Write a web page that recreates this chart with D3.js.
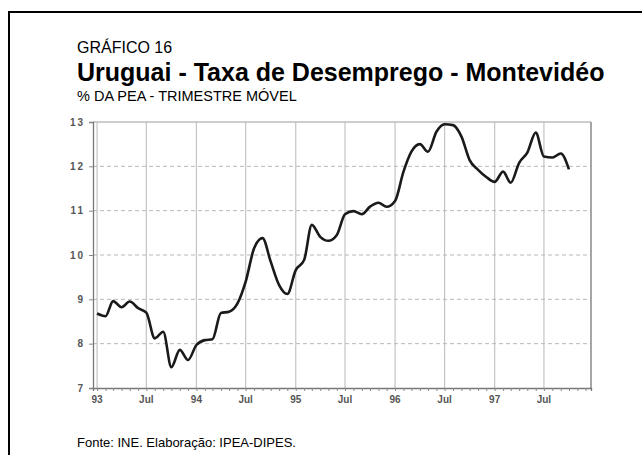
<!DOCTYPE html>
<html lang="pt">
  <head>
    <meta charset="UTF-8" />
    <title>Uruguai - Taxa de Desemprego - Montevidéo</title>
    <script src="https://d3js.org/d3.v7.min.js"></script>
    <style>
      body {
        margin: 0;
        background: #fff;
        font-family: "Liberation Sans", Arial, sans-serif;
      }
      .grid-v line {
        stroke: #c4c4c4;
        stroke-width: 1.2;
      }
      .grid-h line {
        stroke: #b8b8b8;
        stroke-width: 1;
        stroke-dasharray: 4 3;
      }
      .tick-label {
        font-size: 10px;
        fill: #555;
        font-weight: bold;
      }
    </style>
  </head>
  <body>
    <div id="chart"></div>
    <script>
      // taxa de desemprego mensal (trimestre móvel), jan/93 a out/97
      const startMonth = [1993, 0];
      const values1993 = [8.68, 8.62, 8.96, 8.82, 8.95, 8.8, 8.7, 8.12, 8.27, 7.47, 7.86, 7.63];
      const values1994 = [7.97, 8.08, 8.1, 8.69, 8.72, 8.91, 9.4, 10.15, 10.38, 9.85, 9.32, 9.12];
      const values1995 = [9.66, 9.89, 10.68, 10.41, 10.32, 10.45, 10.92, 10.99, 10.92, 11.09, 11.18, 11.09];
      const values1996 = [11.22, 11.88, 12.33, 12.5, 12.33, 12.78, 12.95, 12.93, 12.67, 12.14, 11.92, 11.76];
      const values1997 = [11.65, 11.88, 11.63, 12.08, 12.31, 12.76, 12.22, 12.2, 12.29, 11.93];
      const yTicks = [7, 8, 9, 10, 11, 12, 13];
      const xTickLabels = ["93", "Jul", "94", "Jul", "95", "Jul", "96", "Jul", "97", "Jul"];

      const values = [].concat(values1993, values1994, values1995, values1996, values1997);
      const data = values.map((v, i) => ({
        date: new Date(startMonth[0], startMonth[1] + i, 1),
        value: v,
      }));

      const width = 642;
      const height = 455;
      const plot = { left: 93, right: 591, top: 122, bottom: 388 };

      const svg = d3
        .select("#chart")
        .append("svg")
        .attr("width", width)
        .attr("height", height);

      // moldura preta (canto superior esquerdo)
      svg
        .append("path")
        .attr("d", `M9,${height} V12 H${width}`)
        .attr("fill", "none")
        .attr("stroke", "#000")
        .attr("stroke-width", 2);

      const x = d3
        .scaleTime()
        .domain([new Date(1992, 11, 17), new Date(1997, 11, 21)])
        .range([plot.left, plot.right]);

      const y = d3.scaleLinear().domain([7, 13]).range([plot.bottom, plot.top]);

      const halfYears = d3.timeMonth.every(6).range(new Date(1993, 0, 1), new Date(1997, 11, 2));
      const months = d3.timeMonth.range(new Date(1993, 0, 1), new Date(1997, 11, 2));

      // grade vertical
      svg
        .append("g")
        .attr("class", "grid-v")
        .selectAll("line")
        .data(halfYears)
        .join("line")
        .attr("x1", (d) => x(d))
        .attr("x2", (d) => x(d))
        .attr("y1", plot.top)
        .attr("y2", plot.bottom);

      // grade horizontal tracejada
      svg
        .append("g")
        .attr("class", "grid-h")
        .selectAll("line")
        .data(yTicks.slice(1, -1))
        .join("line")
        .attr("x1", plot.left)
        .attr("x2", plot.right)
        .attr("y1", (d) => y(d))
        .attr("y2", (d) => y(d));

      // moldura da área do gráfico
      svg
        .append("line")
        .attr("x1", plot.left)
        .attr("x2", plot.right)
        .attr("y1", plot.top)
        .attr("y2", plot.top)
        .attr("stroke", "#bdbdbd")
        .attr("stroke-width", 1.5);
      svg
        .append("line")
        .attr("x1", plot.right)
        .attr("x2", plot.right)
        .attr("y1", plot.top)
        .attr("y2", plot.bottom)
        .attr("stroke", "#888")
        .attr("stroke-width", 1.5);

      // eixo Y
      const yAxis = svg
        .append("g")
        .attr("transform", `translate(${plot.left},0)`)
        .call(d3.axisLeft(y).tickValues(yTicks).tickSize(4).tickPadding(4).tickFormat(d3.format("d")));
      yAxis.select(".domain").attr("stroke", "#777").attr("stroke-width", 1.3);
      yAxis.selectAll(".tick line").attr("stroke", "#888");
      yAxis
        .selectAll(".tick text")
        .attr("class", "tick-label")
        .style("letter-spacing", "2px");

      // eixo X: marcas mensais
      const xAxis = svg
        .append("g")
        .attr("transform", `translate(0,${plot.bottom})`)
        .call(d3.axisBottom(x).tickValues(months).tickSize(3).tickFormat(""));
      xAxis.select(".domain").attr("stroke", "#777").attr("stroke-width", 1.3);
      xAxis.selectAll(".tick line").attr("stroke", "#888");

      svg
        .append("g")
        .selectAll("text")
        .data(halfYears)
        .join("text")
        .attr("class", "tick-label")
        .attr("x", (d) => x(d))
        .attr("y", plot.bottom + 15)
        .attr("text-anchor", "middle")
        .text((d, i) => xTickLabels[i]);

      // série
      const line = d3
        .line()
        .curve(d3.curveMonotoneX)
        .x((d) => x(d.date))
        .y((d) => y(d.value));

      svg
        .append("path")
        .datum(data)
        .attr("d", line)
        .attr("fill", "none")
        .attr("stroke", "#1a1a1a")
        .attr("stroke-width", 2.6)
        .attr("stroke-linejoin", "round");

      // textos
      svg
        .append("text")
        .attr("x", 77)
        .attr("y", 53)
        .style("font-size", "16px")
        .text("GRÁFICO 16");

      svg
        .append("text")
        .attr("x", 77)
        .attr("y", 81)
        .style("font-size", "25px")
        .style("font-weight", "bold")
        .text("Uruguai - Taxa de Desemprego - Montevidéo");

      svg
        .append("text")
        .attr("x", 77)
        .attr("y", 101)
        .style("font-size", "14.5px")
        .text("% DA PEA - TRIMESTRE MÓVEL");

      svg
        .append("text")
        .attr("x", 77)
        .attr("y", 447)
        .style("font-size", "13px")
        .text("Fonte: INE. Elaboração: IPEA-DIPES.");
    </script>
  </body>
</html>
